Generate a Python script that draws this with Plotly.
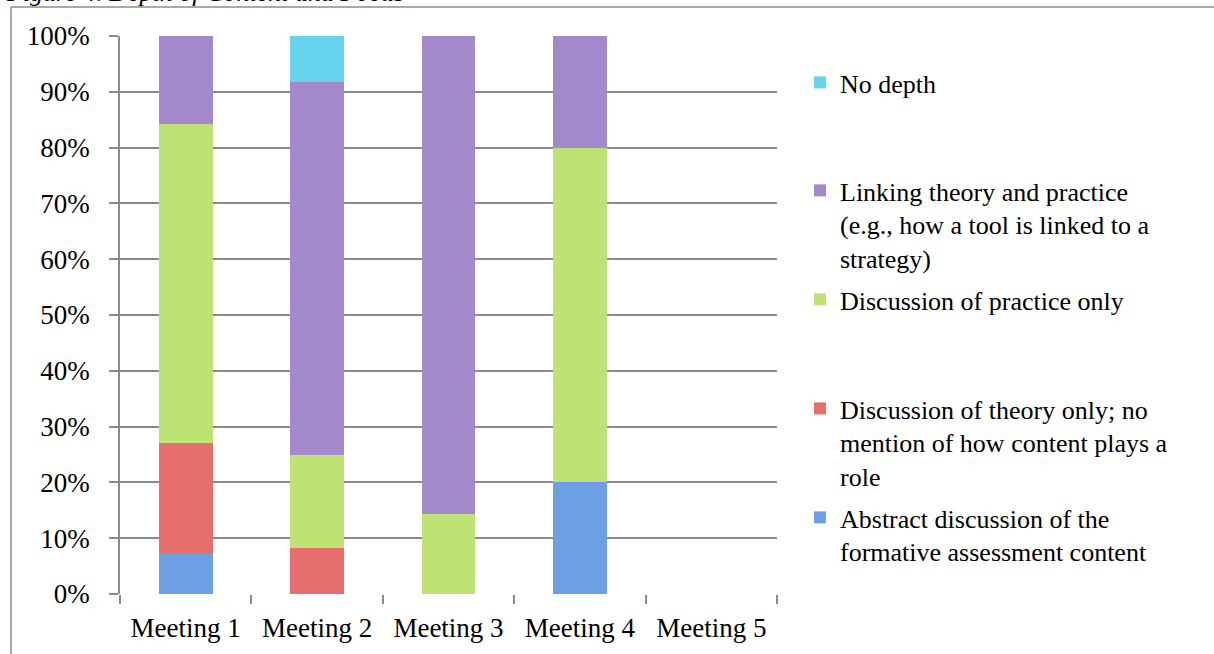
import plotly.graph_objects as go

# Share of meeting discussion at each depth level (percent of segments)
meetings = ["Meeting 1", "Meeting 2", "Meeting 3", "Meeting 4", "Meeting 5"]
abstract_discussion = [7.1, None, None, 20.0, None]
theory_only = [20.0, 8.3, None, None, None]
practice_only = [57.1, 16.7, 14.3, 60.0, None]
linking_theory_practice = [15.8, 66.7, 85.7, 20.0, None]
no_depth = [None, 8.3, None, None, None]

y_tick_values = list(range(0, 101, 10))
y_tick_labels = [f"{v}%" for v in y_tick_values]

FONT = "Liberation Serif"
GRID = "#8a8a8a"

# plot-area geometry in pixels (used to place legends and frame lines)
W, H = 1214, 654
L, R, T, B = 120, 437, 36, 60
pw, ph = W - L - R, H - T - B


def px_x(x):
    return (x - L) / pw


def px_y(y):
    return (H - B - y) / ph


series = [
    ("Abstract discussion of the<br>formative assessment content",
     abstract_discussion, "#6c9fe3", "legend5", 494),
    ("Discussion of theory only; no<br>mention of how content plays a<br>role",
     theory_only, "#e66e6c", "legend4", 385),
    ("Discussion of practice only",
     practice_only, "#bfe275", "legend3", 276),
    ("Linking theory and practice<br>(e.g., how a tool is linked to a<br>strategy)",
     linking_theory_practice, "#a388cb", "legend2", 167),
    ("No depth", no_depth, "#67d3ec", "legend", 59),
]

fig = go.Figure()
legends = {}
for name, vals, color, lg, top_px in series:
    fig.add_trace(go.Bar(
        x=meetings, y=vals, name=name, legend=lg,
        marker=dict(color=color, line=dict(width=0)),
        width=0.41,
    ))
    legends[lg] = dict(
        x=px_x(800), xanchor="left",
        y=px_y(top_px), yanchor="top",
        valign="top",
        bgcolor="rgba(0,0,0,0)",
        font=dict(family=FONT, size=26, color="#000000"),
    )

fig.update_layout(
    width=W, height=H,
    margin=dict(l=L, r=R, t=T, b=B, pad=0),
    barmode="stack",
    plot_bgcolor="white",
    paper_bgcolor="white",
    font=dict(family=FONT, size=27, color="#000000"),
    showlegend=True,
    **legends,
    xaxis=dict(
        type="category",
        tickson="boundaries",
        ticks="outside", ticklen=9, tickwidth=1.5, tickcolor=GRID,
        showgrid=False,
        showline=False,
        ticklabelstandoff=15,
        tickfont=dict(family=FONT, size=27, color="#000000"),
    ),
    yaxis=dict(
        range=[0, 100],
        tickmode="array",
        tickvals=y_tick_values,
        ticktext=y_tick_labels,
        ticks="outside", ticklen=9, tickwidth=1.5, tickcolor=GRID,
        showgrid=True, gridcolor=GRID, gridwidth=1.5,
        showline=True, linecolor=GRID, linewidth=1.5,
        zeroline=False,
        ticklabelstandoff=14,
        tickfont=dict(family=FONT, size=27, color="#000000"),
    ),
)

# outer frame of the figure box (left and top edges)
frame = dict(color="#8c8c8c", width=1.5)
fig.add_shape(type="line", xref="paper", yref="paper",
              x0=px_x(11), x1=px_x(11), y0=px_y(7), y1=px_y(H + 5), line=frame)
fig.add_shape(type="line", xref="paper", yref="paper",
              x0=px_x(11), x1=px_x(W + 5), y0=px_y(7), y1=px_y(7), line=frame)

# caption sitting above the frame
fig.add_annotation(
    text="<i>Figure 4. Depth of Content and Focus</i>",
    xref="paper", yref="paper",
    x=px_x(4), xanchor="left",
    y=px_y(9), yanchor="bottom",
    showarrow=False,
    font=dict(family=FONT, size=26, color="#000000"),
)

fig.write_html("out.html")
